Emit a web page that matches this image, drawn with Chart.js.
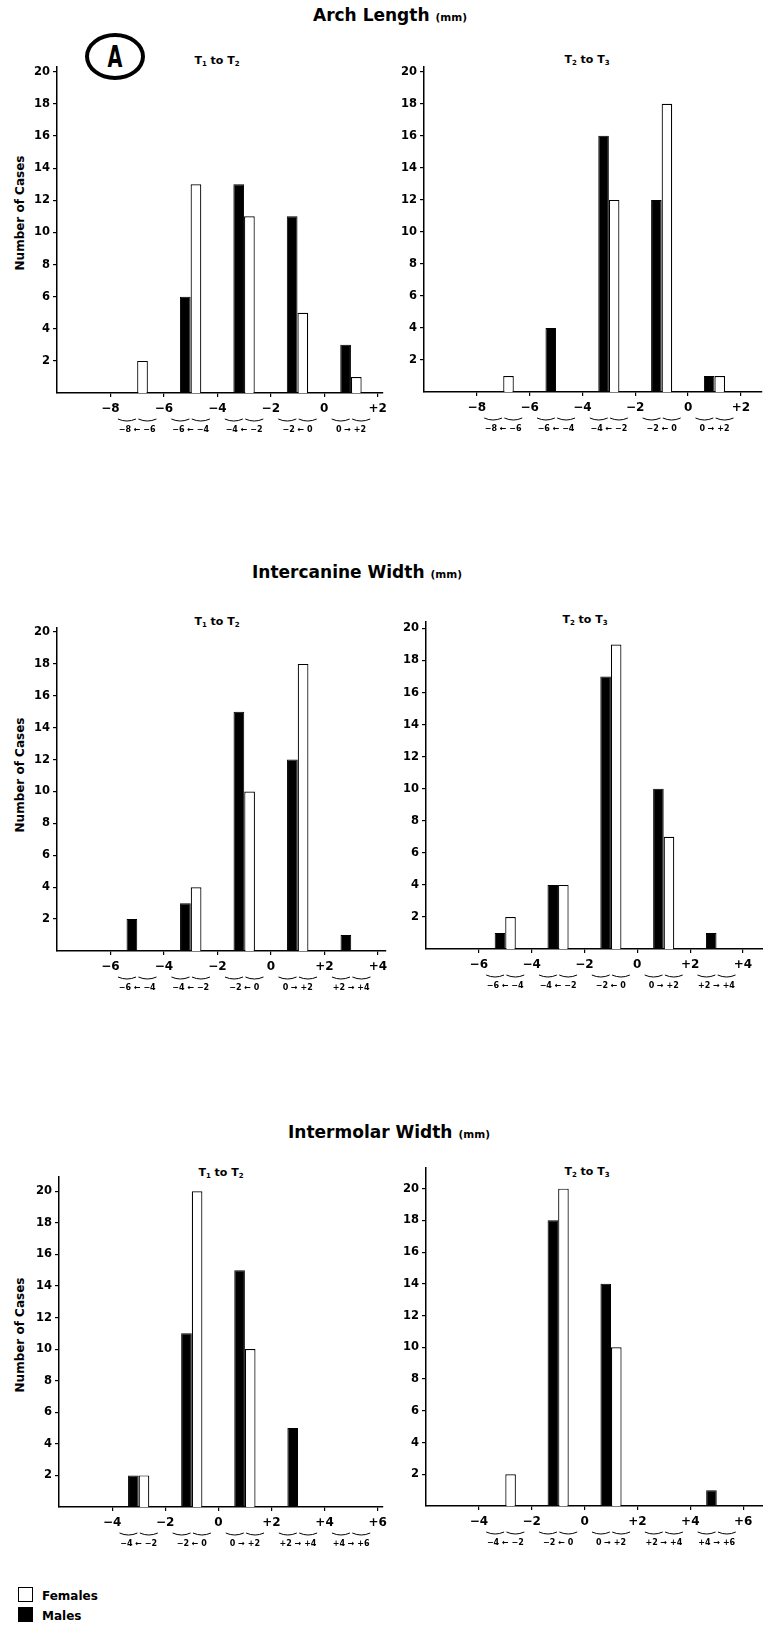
<!DOCTYPE html>
<html><head><meta charset="utf-8">
<script src="https://cdn.jsdelivr.net/npm/chart.js@4.4.1/dist/chart.umd.min.js"></script>
<style>
html,body{margin:0;padding:0;background:#fff;}
#wrap{position:relative;width:763px;height:1628px;overflow:hidden;font-family:'DejaVu Sans',sans-serif;color:#000;}
canvas{position:absolute;}
.t{position:absolute;font-weight:bold;white-space:nowrap;transform:translate(-50%,-50%);}
.main{font-size:17px;}
.main small{font-size:10.5px;margin-left:6px;}
.sub{font-size:11px;}
.sub sub{font-size:7px;vertical-align:-2px;}
.yt{font-size:12px;transform:translate(-50%,-50%) rotate(-90deg);}
#circA{position:absolute;left:85px;top:33px;width:60px;height:47px;box-sizing:border-box;border:4px solid #000;border-radius:50%;}
#circA span{position:absolute;left:50%;top:50%;font-weight:bold;font-size:31px;transform:translate(-50%,-52%) scaleX(0.62);}
.lbox{position:absolute;left:18px;width:15px;height:15px;box-sizing:border-box;border:1.5px solid #000;}
.ltxt{position:absolute;left:42px;font-weight:bold;font-size:12px;transform:translateY(-50%);}
</style></head>
<body><div id="wrap">
<div class="t main" style="left:390px;top:15px;">Arch Length<small>(mm)</small></div>
<div class="t main" style="left:357px;top:572px;">Intercanine Width<small>(mm)</small></div>
<div class="t main" style="left:389px;top:1132px;">Intermolar Width<small>(mm)</small></div>
<div id="circA"><span>A</span></div>
<div class="t sub" style="left:217px;top:61px;">T<sub>1</sub> to T<sub>2</sub></div>
<div class="t sub" style="left:587px;top:60px;">T<sub>2</sub> to T<sub>3</sub></div>
<div class="t sub" style="left:217px;top:622px;">T<sub>1</sub> to T<sub>2</sub></div>
<div class="t sub" style="left:585px;top:620px;">T<sub>2</sub> to T<sub>3</sub></div>
<div class="t sub" style="left:221px;top:1173px;">T<sub>1</sub> to T<sub>2</sub></div>
<div class="t sub" style="left:587px;top:1172px;">T<sub>2</sub> to T<sub>3</sub></div>
<div class="t yt" style="left:20px;top:213px;">Number of Cases</div>
<div class="t yt" style="left:20px;top:775px;">Number of Cases</div>
<div class="t yt" style="left:20px;top:1335px;">Number of Cases</div>
<div class="lbox" style="top:1587px;background:#fff;"></div>
<div class="ltxt" style="top:1596px;">Females</div>
<div class="lbox" style="top:1607px;background:#000;"></div>
<div class="ltxt" style="top:1616px;">Males</div>
<canvas id="c0"></canvas><canvas id="c1"></canvas><canvas id="c2"></canvas>
<canvas id="c3"></canvas><canvas id="c4"></canvas><canvas id="c5"></canvas>
</div>
<script>
// ---- data ----
const yTicks = [2, 4, 6, 8, 10, 12, 14, 16, 18, 20];

const archCenters = [-7, -5, -3, -1, 1];
const archBins = ['\u22128 \u2190 \u22126', '\u22126 \u2190 \u22124', '\u22124 \u2190 \u22122', '\u22122 \u2190 0', '0 \u2192 +2'];
const archTicks = [-8, -6, -4, -2, 0, 2];
const archT12Males = [0, 6, 13, 11, 3];
const archT12Females = [2, 13, 11, 5, 1];
const archT23Males = [0, 4, 16, 12, 1];
const archT23Females = [1, 0, 12, 18, 1];

const canineCenters = [-5, -3, -1, 1, 3];
const canineBins = ['\u22126 \u2190 \u22124', '\u22124 \u2190 \u22122', '\u22122 \u2190 0', '0 \u2192 +2', '+2 \u2192 +4'];
const canineTicks = [-6, -4, -2, 0, 2, 4];
const canineT12Males = [2, 3, 15, 12, 1];
const canineT12Females = [0, 4, 10, 18, 0];
const canineT23Males = [1, 4, 17, 10, 1];
const canineT23Females = [2, 4, 19, 7, 0];

const molarCenters = [-3, -1, 1, 3, 5];
const molarBins = ['\u22124 \u2190 \u22122', '\u22122 \u2190 0', '0 \u2192 +2', '+2 \u2192 +4', '+4 \u2192 +6'];
const molarTicks = [-4, -2, 0, 2, 4, 6];
const molarT12Males = [2, 11, 15, 5, 0];
const molarT12Females = [2, 20, 10, 0, 0];
const molarT23Males = [0, 18, 14, 0, 1];
const molarT23Females = [2, 20, 10, 0, 0];

// ---- layout ----
const panels = [
  {id:'c0', left:0,   top:57,   w:392, h:384, yW:57, xMin:-10, xMax:2.2,  yMax:20.3, centers:archCenters, bins:archBins, ticks:archTicks, males:archT12Males, females:archT12Females},
  {id:'c1', left:388, top:57,   w:382, h:383, yW:36, xMin:-10, xMax:2.8,  yMax:20.3, centers:archCenters, bins:archBins, ticks:archTicks, males:archT23Males, females:archT23Females},
  {id:'c2', left:0,   top:618,  w:394, h:381, yW:57, xMin:-8,  xMax:4.3,  yMax:20.25, centers:canineCenters, bins:canineBins, ticks:canineTicks, males:canineT12Males, females:canineT12Females},
  {id:'c3', left:388, top:612,  w:383, h:385, yW:38, xMin:-8,  xMax:4.76, yMax:20.4, centers:canineCenters, bins:canineBins, ticks:canineTicks, males:canineT23Males, females:canineT23Females},
  {id:'c4', left:0,   top:1167, w:392, h:388, yW:59, xMin:-6,  xMax:6.2,  yMax:20.9, centers:molarCenters, bins:molarBins, ticks:molarTicks, males:molarT12Males, females:molarT12Females},
  {id:'c5', left:388, top:1158, w:383, h:396, yW:38, xMin:-6,  xMax:6.75, yMax:21.3, centers:molarCenters, bins:molarBins, ticks:molarTicks, males:molarT23Males, females:molarT23Females}
];

Chart.defaults.font.family = "'DejaVu Sans', sans-serif";
Chart.defaults.color = '#000';
const fmt = v => v > 0 ? '+' + v : (v < 0 ? '\u2212' + Math.abs(v) : '0');

panels.forEach(p => {
  const cv = document.getElementById(p.id);
  cv.width = p.w; cv.height = p.h;
  cv.style.left = p.left + 'px'; cv.style.top = p.top + 'px';
  cv.style.width = p.w + 'px'; cv.style.height = p.h + 'px';
  const bracePlugin = {
    id: 'braces',
    afterDraw(chart) {
      const s = chart.scales.x, ctx = chart.ctx, y = chart.chartArea.bottom + 26;
      ctx.save(); ctx.strokeStyle = '#000'; ctx.lineWidth = 1;
      p.centers.forEach(c => {
        const xc = s.getPixelForValue(c);
        const half = s.getPixelForValue(c + 0.72) - xc, g = 1.2;
        [[xc - half, xc - g], [xc + g, xc + half]].forEach(([a, b]) => {
          ctx.beginPath(); ctx.moveTo(a, y);
          ctx.quadraticCurveTo((a + b) / 2, y + 4, b, y);
          ctx.stroke();
        });
      });
      ctx.restore();
    }
  };
  new Chart(cv, {
    type: 'bar',
    data: {
      datasets: [
        {label: 'Males', data: p.centers.map((c, i) => ({x: c, y: p.males[i]})),
         backgroundColor: '#000', borderColor: '#000', borderWidth: 1,
         categoryPercentage: 0.4, barPercentage: 1},
        {label: 'Females', data: p.centers.map((c, i) => ({x: c, y: p.females[i]})),
         backgroundColor: '#fff', borderColor: '#000', borderWidth: 1.2,
         categoryPercentage: 0.4, barPercentage: 1}
      ]
    },
    options: {
      responsive: false, animation: false, devicePixelRatio: 1,
      layout: {padding: {top: 10, right: 8, bottom: 4, left: 0}},
      plugins: {legend: {display: false}, tooltip: {enabled: false}},
      scales: {
        x: {type: 'linear', position: 'bottom', min: p.xMin, max: p.xMax, offset: false, bounds: 'data', weight: 0,
            grid: {display: true, drawOnChartArea: false, offset: false, tickLength: 4, color: '#000', lineWidth: 1.2},
            border: {display: true, color: '#000', width: 1.5},
            ticks: {callback: v => fmt(v), font: {size: 12, weight: 'bold'}, padding: 5, maxRotation: 0, autoSkip: false},
            afterBuildTicks: s => { s.ticks = p.ticks.map(v => ({value: v})); },
            afterFit: s => { s.height = 24; }},
        xb: {type: 'linear', position: 'bottom', min: p.xMin, max: p.xMax, offset: false, bounds: 'data', weight: 1,
            grid: {display: false, drawTicks: false, tickLength: 0}, border: {display: false},
            ticks: {callback: (v, i) => p.bins[i], font: {size: 8, weight: 'bold'}, padding: 8, maxRotation: 0, autoSkip: false},
            afterBuildTicks: s => { s.ticks = p.centers.map(v => ({value: v})); },
            afterFit: s => { s.height = 20; }},
        y: {type: 'linear', min: 0, max: p.yMax, bounds: 'data',
            grid: {display: true, drawOnChartArea: false, tickLength: 4, color: '#000', lineWidth: 1.2},
            border: {display: true, color: '#000', width: 1.5},
            ticks: {font: {size: 11.5, weight: 'bold'}, padding: 3, autoSkip: false},
            afterBuildTicks: s => { s.ticks = yTicks.map(v => ({value: v})); },
            afterFit: s => { s.width = p.yW; }}
      }
    },
    plugins: [bracePlugin]
  });
});
</script>
</body></html>
